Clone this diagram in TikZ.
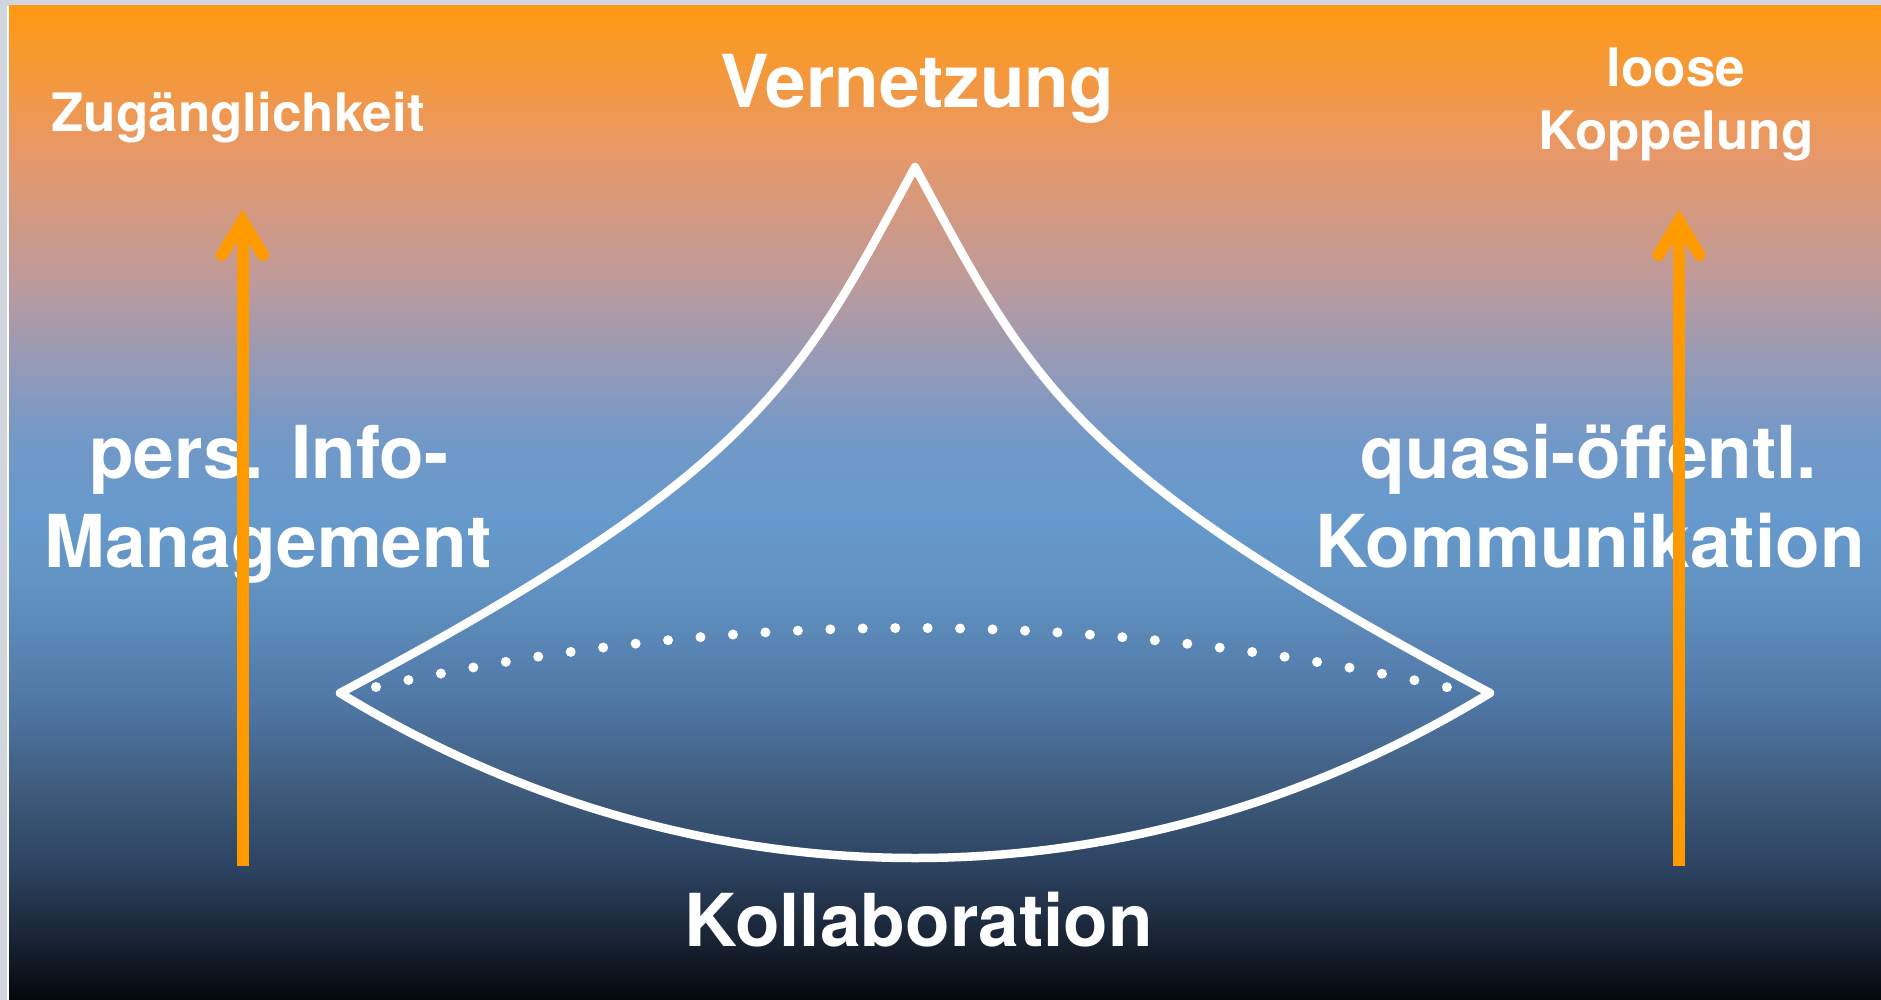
\documentclass[tikz,border=0pt]{standalone}
\usepackage{fontspec}
\setmainfont{TeX Gyre Heros}
\definecolor{s0}{HTML}{04080B}
\definecolor{s1}{HTML}{182333}
\definecolor{s2}{HTML}{2C4260}
\definecolor{s3}{HTML}{3C5878}
\definecolor{s4}{HTML}{5078A6}
\definecolor{s5}{HTML}{6294C4}
\definecolor{s6}{HTML}{6699CC}
\definecolor{s7}{HTML}{7299C8}
\definecolor{s8}{HTML}{9C9AB4}
\definecolor{s9}{HTML}{BE9A9A}
\definecolor{s10}{HTML}{E89868}
\definecolor{s11}{HTML}{FF9912}
\definecolor{framegray}{HTML}{D2D6DE}
\definecolor{arroworange}{HTML}{FF9900}
\pgfdeclareverticalshading{bgshade}{100bp}{color(0bp)=(s0); color(25bp)=(s0); color(28.02bp)=(s1); color(31.54bp)=(s2); color(35.06bp)=(s3); color(40.09bp)=(s4); color(46.13bp)=(s5); color(49.14bp)=(s6); color(53.17bp)=(s7); color(57.7bp)=(s8); color(61.22bp)=(s9); color(67.76bp)=(s10); color(75bp)=(s11); color(100bp)=(s11)}
\tikzset{
  bigtext/.style={text=white, inner sep=0pt, anchor=base, font=\bfseries\fontsize{73}{88}\selectfont},
  smalltext/.style={text=white, inner sep=0pt, anchor=base, font=\bfseries\fontsize{53}{63}\selectfont},
  shapeline/.style={draw=white, line width=8.5pt, line join=round},
  upshaft/.style={draw=arroworange, line width=12pt},
  uphead/.style={draw=arroworange, line width=12pt, line cap=round, line join=miter},
  dotmark/.style={fill=white}
}
\begin{document}
\begin{tikzpicture}[x=1pt, y=-1pt]
\useasboundingbox (0,0) rectangle (1881,1000);
% frame and background
\fill[framegray] (0,0) rectangle (1881,1000);
\fill[white] (7,6) rectangle (9,1000);
\shade[shading=bgshade] (9,6) rectangle (1881,1000);

% texts
\node[smalltext] (zug) at (238,132) {Zugänglichkeit};
\node[bigtext] (vern) at (917,108) {Vernetzung};
\node[smalltext] (loose) at (1676,87) {loose};
\node[smalltext] (kopp) at (1676,150) {Koppelung};
\node[bigtext] (pers) at (269,478) {pers. Info-};
\node[bigtext] (mgmt) at (268,567) {Management};
\node[bigtext] (quasi) at (1589,478) {quasi-öffentl.};
\node[bigtext] (komm) at (1590,567) {Kommunikation};
\node[bigtext] (koll) at (919,946) {Kollaboration};

% the shape
\coordinate (apex) at (915,167);
\coordinate (lpt) at (340,693);
\coordinate (rpt) at (1490,693);
\draw[shapeline] (apex) .. controls (800,380) and (760,470) .. (lpt)
  .. controls (700,913) and (1130,913) .. (rpt)
  .. controls (1070,470) and (1030,380) .. (apex) -- cycle;

% dotted arc
\foreach \i in {0,...,33} {
  \pgfmathsetmacro{\dx}{376+32.45*\i}
  \pgfmathsetmacro{\dy}{628+59*((\dx-911)/535)^2}
  \fill[dotmark] (\dx,\dy) circle[radius=5];
}

% arrows
\coordinate (la0) at (242.5,866);
\coordinate (la1) at (242.5,225);
\coordinate (lat) at (242.5,221);
\coordinate (law) at (222,255);
\coordinate (lae) at (263,255);
\draw[upshaft] (la0) -- (la1);
\draw[uphead] (law) -- (lat) -- (lae);

\coordinate (ra0) at (1679,866);
\coordinate (ra1) at (1679,225);
\coordinate (rat) at (1679,221);
\coordinate (raw) at (1658.5,255);
\coordinate (rae) at (1699.5,255);
\draw[upshaft] (ra0) -- (ra1);
\draw[uphead] (raw) -- (rat) -- (rae);
\end{tikzpicture}
\end{document}
